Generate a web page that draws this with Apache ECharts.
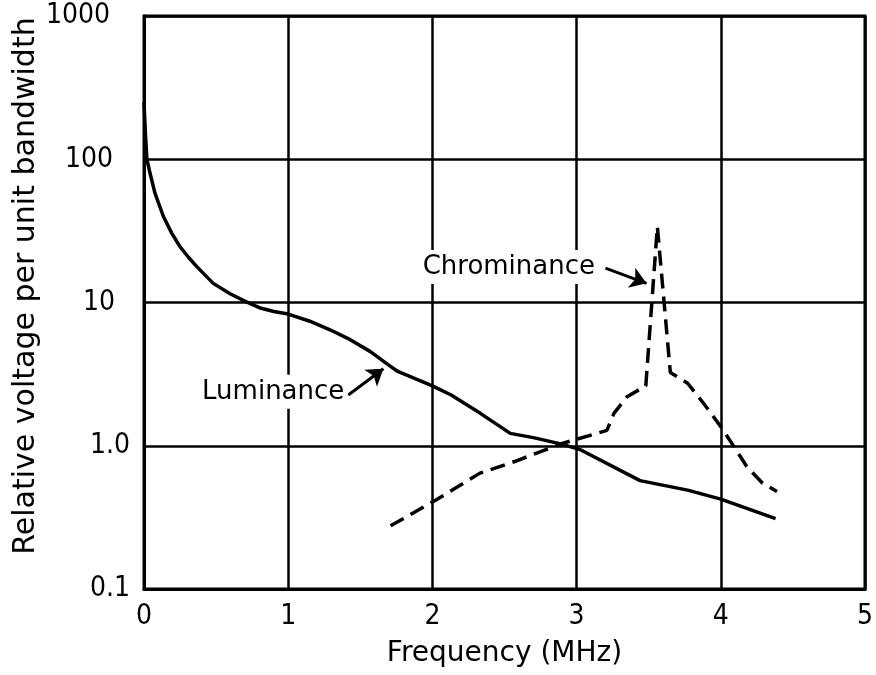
<!DOCTYPE html>
<html>
<head>
<meta charset="utf-8">
<script src="https://cdn.jsdelivr.net/npm/echarts@6/dist/echarts.min.js"></script>
<style>
  html, body { margin: 0; padding: 0; background: #fff; }
  #chart { width: 876px; height: 675px; }
</style>
</head>
<body>
<div id="chart"></div>
<script>
// Spectrum of the video signal: relative voltage per unit bandwidth vs frequency (MHz)
const lumaFreq  = [0, 0.01, 0.02, 0.042, 0.076, 0.134, 0.192, 0.25, 0.308, 0.366, 0.48, 0.597,
                   0.71, 0.8, 0.9, 1.0, 1.15, 1.29, 1.43, 1.57, 1.69, 1.76, 2.0, 2.13, 2.33,
                   2.54, 2.7, 2.89, 3.03, 3.44, 3.77, 4.0, 4.38];
const lumaLevel = [250, 150, 100, 79.8, 58, 40, 30.5, 24.5, 20.7, 17.8, 13.6, 11.5,
                   10.1, 9.2, 8.65, 8.3, 7.4, 6.45, 5.5, 4.54, 3.7, 3.3, 2.62, 2.26, 1.69,
                   1.22, 1.14, 1.03, 0.935, 0.571, 0.49, 0.424, 0.31];

const chromaFreq  = [1.71, 2.01, 2.33, 2.57, 2.89, 3.21, 3.26, 3.35, 3.48, 3.56, 3.65, 3.77,
                     3.88, 4.0, 4.09, 4.18, 4.29, 4.39];
const chromaLevel = [0.276, 0.41, 0.644, 0.776, 1.03, 1.28, 1.69, 2.2, 2.62, 33.9, 3.25, 2.73,
                     1.98, 1.36, 0.99, 0.716, 0.548, 0.479];

const xTickLabels = ['0', '1', '2', '3', '4', '5'];
const yTickValues = [0.1, 1, 10, 100, 1000];
const yTickLabels = ['0.1', '1.0', '10', '100', '1000'];

const luma = lumaFreq.map((f, i) => [f, lumaLevel[i]]);
const chroma = chromaFreq.map((f, i) => [f, chromaLevel[i]]);

const textFont = '"DejaVu Sans", "Noto Sans", sans-serif';
const tickFont = '"DejaVu Sans Condensed", "Liberation Sans", sans-serif';

// callout anchors (data coordinates)
const lumaNote   = { at: [0.896, 2.38], from: [1.417, 2.26], to: [1.66, 3.45] };
const chromaNote = { at: [2.53, 17.7],  from: [3.2, 17.4],   to: [3.485, 13.6] };

function callout(note, text) {
  return {
    markPoint: {
      silent: true,
      symbol: 'circle',
      symbolSize: 0,
      data: [{ coord: note.at }],
      label: {
        show: true, position: 'inside', formatter: text,
        color: '#000', fontFamily: textFont, fontSize: 26,
        backgroundColor: '#fff', padding: [5, 3, 3, 3]
      }
    },
    markLine: {
      silent: true,
      symbol: ['none', 'arrow'],
      symbolSize: 16,
      label: { show: false },
      lineStyle: { color: '#000', width: 3, type: 'solid' },
      data: [[{ coord: note.from }, { coord: note.to }]]
    }
  };
}

const chart = echarts.init(document.getElementById('chart'), null, { renderer: 'canvas' });

const rightPad = { '1000': 20, '100': 17, '10': 15, '1.0': 0, '0.1': 0 };
const rich = {};
yTickLabels.forEach((t, i) => {
  rich['r' + i] = { padding: [0, rightPad[t], 0, 0], fontFamily: tickFont, fontSize: 28, color: '#000' };
});

chart.setOption({
  animation: false,
  backgroundColor: '#fff',
  grid: {
    left: 144, right: 11, top: 16, bottom: 86,
    show: true, borderColor: '#000', borderWidth: 3, backgroundColor: 'transparent'
  },
  xAxis: {
    type: 'value', min: 0, max: 5, interval: 1,
    name: 'Frequency (MHz)', nameLocation: 'middle', nameGap: 51,
    nameTextStyle: { fontFamily: textFont, fontSize: 28, color: '#000' },
    axisLine: { show: true, lineStyle: { color: '#000', width: 3 } },
    axisTick: { show: false },
    axisLabel: {
      margin: 14, color: '#000', fontFamily: tickFont, fontSize: 28,
      formatter: v => xTickLabels[Math.round(v)]
    },
    splitLine: { show: true, lineStyle: { color: '#000', width: 2.5 } }
  },
  yAxis: {
    type: 'log', logBase: 10, min: 0.1, max: 1000,
    axisLine: { show: true, lineStyle: { color: '#000', width: 3 } },
    axisTick: { show: false },
    minorTick: { show: false },
    axisLabel: {
      margin: 14, color: '#000', fontFamily: tickFont, fontSize: 28,
      formatter: v => {
        const i = Math.round(Math.log10(v)) + 1;
        return '{r' + i + '|' + yTickLabels[i] + '}';
      },
      rich: rich
    },
    splitLine: { show: true, lineStyle: { color: '#000', width: 2.5 } }
  },
  graphic: [{
    type: 'text',
    x: 26, y: 286,
    rotation: Math.PI / 2,
    style: {
      text: 'Relative voltage per unit bandwidth',
      font: '30px ' + textFont,
      fill: '#000',
      textAlign: 'center',
      textVerticalAlign: 'middle'
    }
  }],
  series: [
    Object.assign({
      name: 'Luminance',
      type: 'line',
      data: luma,
      showSymbol: false,
      smooth: false,
      lineStyle: { color: '#000', width: 3.5 },
      z: 3
    }, callout(lumaNote, 'Luminance')),
    Object.assign({
      name: 'Chrominance',
      type: 'line',
      data: chroma,
      showSymbol: false,
      smooth: false,
      lineStyle: { color: '#000', width: 3.5, type: [15, 8] },
      z: 3
    }, callout(chromaNote, 'Chrominance'))
  ]
});
</script>
</body>
</html>
